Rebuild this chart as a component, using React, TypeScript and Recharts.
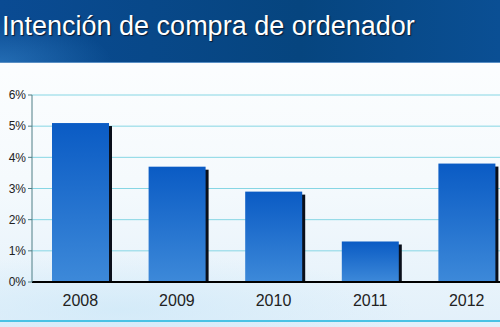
import React from 'react';
import { BarChart, Bar, XAxis, YAxis, CartesianGrid } from 'recharts';

const years = ['2008', '2009', '2010', '2011', '2012'];
const intention = [5.1, 3.7, 2.9, 1.3, 3.8];
const yTicks = [0, 1, 2, 3, 4, 5, 6];

const data = years.map((year, i) => ({ year, value: intention[i] }));

const ShadowBar = (props: any) => {
  const { x, y, width, height } = props;
  if (!height || height <= 0) return null;
  return (
    <g>
      <rect x={x + 3} y={y + 3} width={width} height={height - 3} fill="#0a0f1a" />
      <rect x={x} y={y} width={width} height={height} fill="url(#barGrad)" />
    </g>
  );
};

export default function App() {
  return (
    <div
      style={{
        position: 'fixed',
        left: 0,
        top: 0,
        width: 500,
        height: 327,
        overflow: 'hidden',
        fontFamily: 'Arial, "Liberation Sans", sans-serif',
        background:
          'radial-gradient(ellipse 420px 80px at 120px 310px, rgba(205,232,248,0.7), rgba(255,255,255,0) 70%), linear-gradient(180deg, #ffffff 0%, #f5fafd 55%, #e2f0fa 100%)',
      }}
    >
      <div
        style={{
          position: 'absolute',
          left: 0,
          top: 0,
          width: 500,
          height: 62,
          background:
            'radial-gradient(ellipse 160px 60px at 0px 62px, rgba(60,140,210,0.5), rgba(0,0,0,0) 70%), linear-gradient(90deg, #0a4b93 0%, #06457f 60%, #0a4f94 100%)',
          borderBottom: '1px solid #5a8fc4',
        }}
      >
        <div
          style={{
            position: 'absolute',
            left: 2,
            top: 11,
            color: '#ffffff',
            fontSize: 27,
            lineHeight: '30px',
            whiteSpace: 'nowrap',
            textShadow: '1px 1px 1px #0a1a33',
          }}
        >
          Intención de compra de ordenador
        </div>
      </div>
      <div style={{ position: 'absolute', left: 0, top: 320, width: 500, height: 2, background: '#49c2e4' }} />
      <div style={{ position: 'absolute', left: 0, top: 85 }}>
        <BarChart
          width={525}
          height={227}
          data={data}
          margin={{ top: 10, right: 10, bottom: 0, left: 0 }}
          barSize={57}
        >
          <defs>
            <linearGradient id="barGrad" x1="0" y1="0" x2="0" y2="1">
              <stop offset="0%" stopColor="#0a5bc4" />
              <stop offset="100%" stopColor="#3d89d9" />
            </linearGradient>
          </defs>
          <CartesianGrid vertical={false} stroke="#86d6e4" strokeWidth={1} />
          <XAxis
            dataKey="year"
            axisLine={{ stroke: '#000000', strokeWidth: 2 }}
            tickLine={false}
            tick={{ fill: '#222222', fontSize: 16 }}
            height={30}
            tickMargin={7}
          />
          <YAxis
            domain={[0, 6]}
            ticks={yTicks}
            width={32}
            interval={0}
            tickFormatter={(v: number) => `${v}%`}
            axisLine={{ stroke: '#4f7f86' }}
            tickLine={{ stroke: '#4f7f86' }}
            tickSize={4}
            tickMargin={2}
            tick={{ fill: '#222222', fontSize: 12 }}
          />
          <Bar dataKey="value" shape={ShadowBar} isAnimationActive={false} />
        </BarChart>
      </div>
    </div>
  );
}
